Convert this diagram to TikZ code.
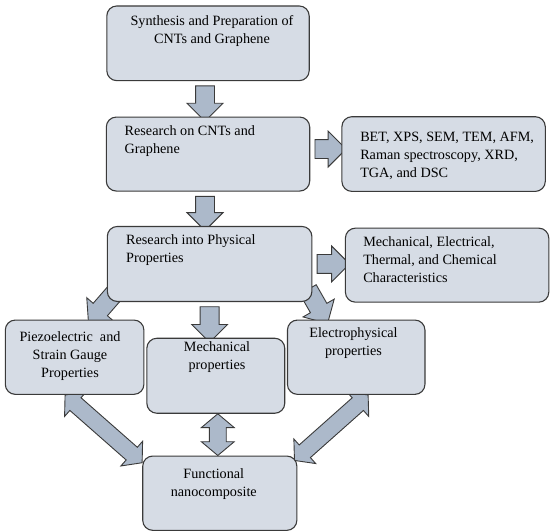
\documentclass[tikz,border=0pt]{standalone}
\usepackage{fontspec}
\setmainfont{Liberation Serif}
\usetikzlibrary{positioning,calc,shapes.arrows,backgrounds}
\definecolor{boxfill}{HTML}{D6DCE5}
\definecolor{arrfill}{HTML}{ACB9CA}
\definecolor{edge}{HTML}{3A3A3A}
\newcommand\fatlink[3]{\path let \p1=($(#3)-(#2)$),\n1={veclen(\x1,\y1)} in (#2) -- (#3) node[midway,#1=\n1]{};}

\begin{document}
\begin{tikzpicture}[x=1pt,y=-1pt,font=\fontsize{14.2}{18}\selectfont,
box/.style={draw=edge,line width=1.1pt,rounded corners=10pt,fill=boxfill,inner sep=0pt},
txt/.style={inner sep=0pt,align=left,text=black},
txtc/.style={inner sep=0pt,align=center,text=black},
fat/.style={single arrow,draw=edge,fill=arrfill,line width=0.9pt,inner xsep=0pt,inner ysep=9pt,single arrow head extend=8.5pt,single arrow tip angle=90,sloped,allow upside down,minimum height=#1},
fatboth/.style={double arrow,draw=edge,fill=arrfill,line width=0.9pt,inner xsep=0pt,inner ysep=8pt,double arrow head extend=8pt,double arrow tip angle=100,sloped,allow upside down,minimum height=#1}]
\useasboundingbox (0,0) rectangle (550,531);
\node[box,minimum width=202.4pt,minimum height=74.7pt] (synth) at (208,43.3) {};
\node[box,minimum width=203.4pt,minimum height=74pt,below=35.3pt of synth] (research) {};
\node[box,minimum width=203.4pt,minimum height=74.7pt,right=31.1pt of research] (tech) {};
\node[box,minimum width=204.6pt,minimum height=75pt,below=34.3pt of research,xshift=1.6pt] (phys) {};
\node[box,minimum width=203.4pt,minimum height=74pt,right=32.4pt of phys,yshift=-1.2pt] (props) {};
\node[box,minimum width=137.9pt,minimum height=75pt,below=35.7pt of phys,xshift=6.2pt] (mech) {};
\node[box,minimum width=138.6pt,minimum height=74.3pt] (piezo) at (74.6,357.2) {};
\node[box,minimum width=137.5pt,minimum height=74.3pt] (elec) at (356.2,357.2) {};
\node[box,minimum width=154.1pt,minimum height=74.3pt,below=41.7pt of mech,xshift=4pt] (func) {};
% texts
\node[txtc,below=10pt of synth.north,xshift=4pt] (synthT) {Synthesis and Preparation of\\CNTs and Graphene};
\node[txt,below right=9pt and 18.7pt of research.north west] (researchT) {Research on CNTs and\\Graphene};
\node[txt,below right=15.7pt and 18.7pt of tech.north west] (techT) {BET, XPS, SEM, TEM, AFM,\\Raman spectroscopy, XRD,\\TGA, and DSC};
\node[txt,below right=9pt and 19.2pt of phys.north west] (physT) {Research into Physical\\Properties};
\node[txt,below right=9pt and 18.2pt of props.north west] (propsT) {Mechanical, Electrical,\\Thermal, and Chemical\\Characteristics};
\node[txtc,below=11.7pt of piezo.north,xshift=-4.6pt] (piezoT) {Piezoelectric~ and\\Strain Gauge\\Properties};
\node[txtc,below=4pt of mech.north,xshift=1.2pt] (mechT) {Mechanical\\properties};
\node[txtc,below=8.3pt of elec.north,xshift=-2.7pt] (elecT) {Electrophysical\\properties};
\node[txtc,below=13.3pt of func.north,xshift=-6pt] (funcT) {Functional\\nanocomposite};
% block arrows behind the boxes
\begin{pgfonlayer}{background}
\fatlink{fat}{[xshift=-3pt]synth.south}{[xshift=-3pt]research.north}
\fatlink{fat}{[yshift=5pt]research.east}{[yshift=5pt]tech.west}
\fatlink{fat}{[xshift=-3pt]research.south}{[xshift=-4.6pt]phys.north}
\fatlink{fat}{phys.east}{[yshift=1.2pt]props.west}
\fatlink{fat}{phys.south}{[xshift=-6.2pt]mech.north}
\fatlink{fat}{[xshift=10.8pt,yshift=12.3pt]phys.south west}{[xshift=17pt]piezo.north}
\fatlink{fat}{[xshift=-6.8pt,yshift=16.7pt]phys.south east}{[xshift=-31pt]elec.north}
\fatlink{fatboth}{[xshift=-9.6pt]piezo.south}{[yshift=-7.3pt]func.north west}
\fatlink{fatboth}{[xshift=2pt]mech.south}{[xshift=-2pt]func.north}
\fatlink{fatboth}{[xshift=12pt]elec.south}{[xshift=-3pt,yshift=-5pt]func.north east}
\end{pgfonlayer}
\end{tikzpicture}
\end{document}
